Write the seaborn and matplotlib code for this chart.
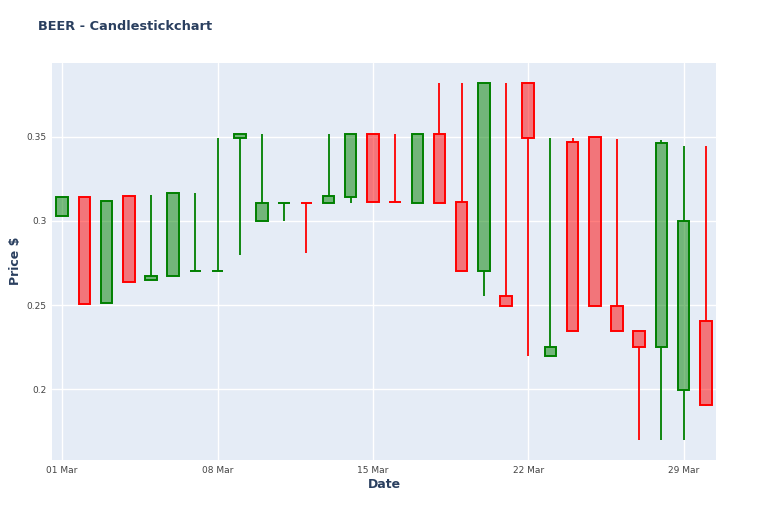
import pandas as pd
import numpy as np
import matplotlib
matplotlib.use('Agg')
import matplotlib.pyplot as plt
import matplotlib.dates as mdates
from matplotlib.colors import to_rgba
import seaborn as sns

# Datos (BEER, marzo)
dates = pd.date_range('2021-03-01', periods=30, freq='D')
opens = [0.303, 0.3144, 0.2515, 0.3148, 0.2646, 0.2674, 0.2702, 0.2702, 0.3494, 0.2996,
         0.3104, 0.3106, 0.3105, 0.3144, 0.3516, 0.3111, 0.3105, 0.3516, 0.311, 0.270,
         0.2555, 0.3817, 0.2195, 0.3467, 0.3496, 0.2496, 0.2348, 0.2249, 0.1998, 0.2407]
highs = [0.314, 0.3144, 0.312, 0.3155, 0.3155, 0.3166, 0.3164, 0.3494, 0.3516, 0.3516,
         0.3105, 0.3106, 0.3516, 0.3516, 0.3516, 0.3516, 0.3516, 0.3817, 0.3817, 0.3817,
         0.3817, 0.3817, 0.3494, 0.3494, 0.3496, 0.3485, 0.2348, 0.348, 0.3445, 0.3445]
lows = [0.303, 0.2506, 0.2515, 0.2636, 0.2646, 0.2674, 0.2702, 0.2702, 0.2798, 0.2996,
        0.2996, 0.281, 0.3105, 0.3105, 0.311, 0.311, 0.3105, 0.3105, 0.270, 0.2555,
        0.2496, 0.22, 0.2195, 0.2348, 0.2496, 0.2348, 0.17, 0.17, 0.17, 0.19]
closes = [0.314, 0.2506, 0.312, 0.2636, 0.2674, 0.3166, 0.2703, 0.2703, 0.3516, 0.3105,
          0.3105, 0.3105, 0.3148, 0.3516, 0.311, 0.311, 0.3516, 0.3105, 0.270, 0.3817,
          0.2496, 0.3494, 0.2249, 0.2348, 0.2496, 0.2348, 0.2249, 0.3461, 0.2996, 0.1907]

df = pd.DataFrame({'date': dates, 'open': opens, 'high': highs, 'low': lows, 'close': closes})
df['up'] = df['close'] >= df['open']
df['color'] = np.where(df['up'], 'green', 'red')
df['top'] = df[['open', 'close']].max(axis=1)
df['bottom'] = df[['open', 'close']].min(axis=1)

sns.set_theme(style='darkgrid', rc={'axes.facecolor': '#E5ECF6', 'grid.color': 'white',
                                    'grid.linewidth': 1.0})
plt.rcParams['font.family'] = ['DejaVu Sans']

fig = plt.figure(figsize=(7.68, 5.12), dpi=100)
ax = fig.add_axes([52 / 768, 1 - 460 / 512, 664 / 768, 397 / 512])

# Mechas (solo fuera del cuerpo)
ax.vlines(df['date'], df['top'], df['high'], colors=df['color'], linewidth=1.3, zorder=2)
ax.vlines(df['date'], df['low'], df['bottom'], colors=df['color'], linewidth=1.3, zorder=2)

# Cuerpos
heights = (df['top'] - df['bottom']).clip(lower=0.00005)
ax.bar(df['date'], heights, bottom=df['bottom'], width=0.52,
       color=[to_rgba(c, 0.5) for c in df['color']], edgecolor=df['color'],
       linewidth=1.4, zorder=3)

ax.set_xlim(pd.Timestamp('2021-02-28 13:00'), pd.Timestamp('2021-03-30 11:00'))
ax.set_ylim(0.158, 0.3937)
ax.set_yticks([0.2, 0.25, 0.3, 0.35])
ax.set_yticklabels(['0.2', '0.25', '0.3', '0.35'])
ax.xaxis.set_major_locator(mdates.DayLocator(bymonthday=[1, 8, 15, 22, 29]))
ax.xaxis.set_major_formatter(mdates.DateFormatter('%d %b'))
ax.tick_params(axis='both', labelsize=6.5, colors='#444444', length=0, pad=4)
for s in ax.spines.values():
    s.set_visible(False)

fig.text(384 / 768, 1 - 484 / 512, 'Date', fontsize=9, fontweight='bold',
         color='#2a3f5f', ha='center', va='center')
fig.text(15 / 768, 1 - 261 / 512, 'Price $', fontsize=9, fontweight='bold',
         color='#2a3f5f', ha='center', va='center', rotation=90)
fig.text(38 / 768, 1 - 27 / 512, 'BEER - Candlestickchart', fontsize=9.3,
         fontweight='bold', color='#2a3f5f', va='center', ha='left')

fig.savefig('out.png', dpi=100)
